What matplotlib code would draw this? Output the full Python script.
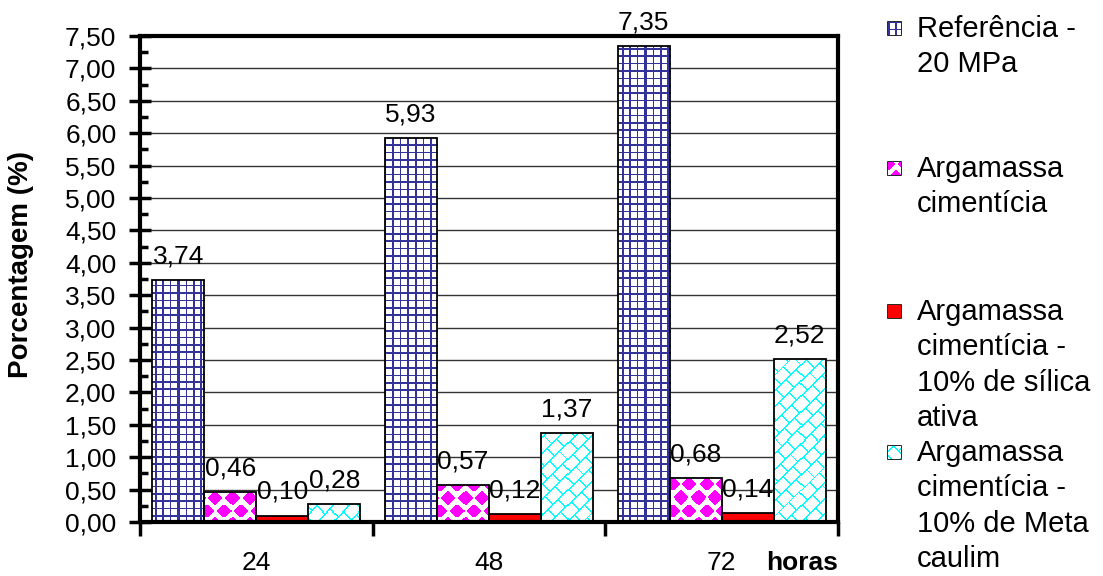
import numpy as np
import matplotlib
matplotlib.use('Agg')
import matplotlib.pyplot as plt
from matplotlib.patches import Rectangle
from matplotlib.ticker import MultipleLocator, FixedLocator, FuncFormatter

plt.rcParams['font.family'] = ['Liberation Sans', 'DejaVu Sans']

# ensaio: porcentagem por tempo (horas)
horas = ['24', '48', '72']
legendas = ['Referência -\n20 MPa',
            'Argamassa\ncimentícia',
            'Argamassa\ncimentícia -\n10% de sílica\nativa',
            'Argamassa\ncimentícia -\n10% de Meta\ncaulim']
referencia = [3.74, 5.93, 7.35]
argamassa = [0.46, 0.57, 0.68]
silica = [0.10, 0.12, 0.14]
metacaulim = [0.28, 1.37, 2.52]

W, H, DPI = 1103, 576, 100
NAVY = np.array([0.2, 0.2, 0.6])
MAGENTA = np.array([1.0, 0.0, 1.0])
CYAN = np.array([0.0, 1.0, 1.0])
RED = np.array([1.0, 0.0, 0.0])
FS = 19


# texturas em pixels absolutos da figura
def tex_grid(X, Y):
    return ((X % 7.4) < 1.6) | ((Y % 7.4) < 1.6), NAVY


def tex_diamond(X, Y):
    row = np.round(Y / 13.0)
    off = (row % 2) * 8.3
    dx = np.abs(((X - off + 8.3) % 16.6) - 8.3)
    dy = np.abs(Y - row * 13.0)
    return dx / 7.5 + dy / 7.5 < 1.0, MAGENTA


def tex_brick(X, Y):
    s = (X + Y) / np.sqrt(2)
    t = (Y - X) / np.sqrt(2)
    P, L = 11.0, 14.0
    k = np.floor(t / P)
    long_ = (t % P) < 1.3
    short = ((s + (k % 2) * L / 2) % L) < 1.3
    return long_ | short, CYAN


def tex_solid(X, Y):
    return np.ones_like(X, dtype=bool), RED


def texture_img(px0, py0, w, h, func):
    xs = px0 + np.arange(w) + 0.5
    ys = py0 + np.arange(h) + 0.5
    X, Y = np.meshgrid(xs, ys)
    on, col = func(X, Y)
    img = np.ones((h, w, 3))
    img[on] = col
    return img


def fill_bar(ax, bar, func):
    x0, y0 = bar.get_x(), bar.get_y()
    x1, y1 = x0 + bar.get_width(), y0 + bar.get_height()
    (px0, py0), (px1, py1) = ax.transData.transform([(x0, y0), (x1, y1)])
    w = max(int(round(px1 - px0)), 1)
    h = max(int(round(py1 - py0)), 1)
    img = texture_img(px0, py0, w, h, func)
    im = ax.imshow(img, extent=(x0, x1, y0, y1), origin='lower',
                   interpolation='nearest', aspect='auto', zorder=2)
    im.set_clip_path(bar)


fig = plt.figure(figsize=(W / DPI, H / DPI), dpi=DPI)
ax = fig.add_axes([140 / W, 54 / H, 698 / W, 486 / H])
ax.set_xlim(-0.5, 2.5)
ax.set_ylim(0, 7.5)
ax.set_autoscale_on(False)

x = np.arange(len(horas))
bw = 0.2235
series = [referencia, argamassa, silica, metacaulim]
texturas = [tex_grid, tex_diamond, tex_solid, tex_brick]

for i, (vals, tex) in enumerate(zip(series, texturas)):
    pos = x + (i - 1.5) * bw
    bars = ax.bar(pos, vals, bw, facecolor='white', edgecolor='none', zorder=1.5)
    for b in bars:
        fill_bar(ax, b, tex)
    ax.bar(pos, vals, bw, fill=False, edgecolor='black', linewidth=1.3, zorder=3)
    for xp, v in zip(pos, vals):
        ax.annotate(f'{v:.2f}'.replace('.', ','), (xp, v), xytext=(0, 17),
                    textcoords='offset points', ha='center', va='center',
                    fontsize=FS, zorder=4)

# eixo y
ax.yaxis.set_major_locator(MultipleLocator(0.5))
ax.yaxis.set_minor_locator(MultipleLocator(0.25))
ax.yaxis.set_major_formatter(FuncFormatter(lambda v, p: f'{v:.2f}'.replace('.', ',')))
ax.tick_params(axis='y', which='major', direction='inout', length=16, width=2.5,
               labelsize=FS, pad=9)
ax.tick_params(axis='y', which='minor', direction='in', length=6, width=2.5)
ax.grid(axis='y', which='major', color='#333333', linewidth=1.0, zorder=0)
ax.set_axisbelow(True)

# eixo x: marcas nas divisas, rótulos no centro
ax.xaxis.set_major_locator(FixedLocator([-0.5, 0.5, 1.5, 2.5]))
ax.xaxis.set_major_formatter(FuncFormatter(lambda v, p: ''))
ax.set_xticks(x, horas, minor=True)
ax.tick_params(axis='x', which='major', direction='out', length=10, width=2.5)
ax.tick_params(axis='x', which='minor', length=0, labelsize=FS, pad=21)

for s in ax.spines.values():
    s.set_linewidth(3)
    s.set_color('black')

ax.set_ylabel('Porcentagem (%)', fontsize=20, fontweight='bold')
ax.yaxis.set_label_coords(-0.152, 0.53)
ax.text(1.0, -0.0844, 'horas', transform=ax.transAxes, ha='right', va='center',
        fontsize=FS, fontweight='bold')

# legenda
leg_y = [26, 166, 309, 450]
for lab, tex, yc in zip(legendas, texturas, leg_y):
    my = H - yc - 9
    img = texture_img(888, my, 13, 13, tex)
    fig.figimage(img, xo=888, yo=my, zorder=3)
    fig.add_artist(Rectangle((888 / W, my / H), 13 / W, 13 / H,
                             transform=fig.transFigure, fill=False,
                             edgecolor='black', linewidth=1.2))
    fig.text(917 / W, (H - yc + 11) / H, lab, ha='left', va='top', fontsize=21,
             linespacing=1.33, transform=fig.transFigure)

fig.savefig('out.png', dpi=DPI)
